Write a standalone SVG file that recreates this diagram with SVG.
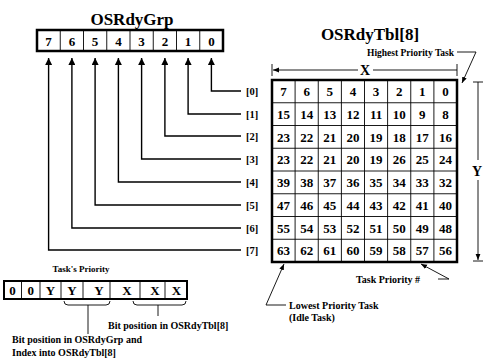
<svg xmlns="http://www.w3.org/2000/svg" width="484" height="363" viewBox="0 0 484 363">
<style>
text{font-family:"Liberation Serif","Times New Roman",serif;font-weight:bold;fill:#000}
.t{font-size:17px;text-anchor:middle}
.c{font-size:13px;text-anchor:middle}
.l{font-size:10.5px}
.s{font-size:9.5px}
.ln{fill:none;stroke:#000;stroke-width:1.4}
.thin{fill:none;stroke:#000;stroke-width:0.9}
.box{fill:#fff;stroke:#000;stroke-width:2.5}
</style>
<defs>
<marker id="ah" viewBox="0 0 10 10" refX="10" refY="5" markerWidth="7" markerHeight="7" markerUnits="userSpaceOnUse" orient="auto"><path d="M0,0L10,5L0,10z" fill="#000"/></marker>
<marker id="ahs" viewBox="0 0 10 10" refX="10" refY="5" markerWidth="6" markerHeight="6" markerUnits="userSpaceOnUse" orient="auto"><path d="M0,1L10,5L0,9z" fill="#000"/></marker>
</defs>

<g id="OSRdyGrp">
<text class="t" x="132" y="25">OSRdyGrp</text>
<rect class="box" x="37" y="30" width="186" height="21"/>
<path class="thin" d="M60.25,30V51M83.5,30V51M106.75,30V51M130,30V51M153.25,30V51M176.5,30V51M199.75,30V51"/>
<g><text class="c" x="48.6" y="45.5">7</text><text class="c" x="71.9" y="45.5">6</text><text class="c" x="95.1" y="45.5">5</text><text class="c" x="118.4" y="45.5">4</text><text class="c" x="141.6" y="45.5">3</text><text class="c" x="164.9" y="45.5">2</text><text class="c" x="188.1" y="45.5">1</text><text class="c" x="211.4" y="45.5">0</text></g>
</g>

<g id="row-labels">
<text class="l" x="246" y="95">[0]</text>
<text class="l" x="246" y="118">[1]</text>
<text class="l" x="246" y="140">[2]</text>
<text class="l" x="246" y="163">[3]</text>
<text class="l" x="246" y="186">[4]</text>
<text class="l" x="246" y="209">[5]</text>
<text class="l" x="246" y="232">[6]</text>
<text class="l" x="246" y="254">[7]</text>
</g>

<g id="connectors">
<path class="ln" d="M241,91H211.4V58" marker-end="url(#ah)"/>
<path class="ln" d="M241,114H188.1V58" marker-end="url(#ah)"/>
<path class="ln" d="M241,136H164.9V58" marker-end="url(#ah)"/>
<path class="ln" d="M241,159H141.6V58" marker-end="url(#ah)"/>
<path class="ln" d="M241,182H118.4V58" marker-end="url(#ah)"/>
<path class="ln" d="M241,205H95.1V58" marker-end="url(#ah)"/>
<path class="ln" d="M241,228H71.9V58" marker-end="url(#ah)"/>
<path class="ln" d="M241,250H48.6V58" marker-end="url(#ah)"/>
<path class="thin" d="M457,52H476L462,83" marker-end="url(#ahs)"/>
<path class="thin" d="M449,279H438M449,279L421,264" marker-end="url(#ahs)"/>
<path class="thin" d="M286,305H266L284,264" marker-end="url(#ahs)"/>
<path class="thin" d="M358,70H273" marker-end="url(#ahs)"/>
<path class="thin" d="M373,70H457M272,64V76M457,64V76"/>
<path class="thin" d="M473,82H483M478,82V160"/>
<path class="thin" d="M478,180V260" marker-end="url(#ahs)"/>
<path class="thin" d="M473,261H483"/>
</g>

<g id="OSRdyTbl">
<text class="t" x="370" y="40">OSRdyTbl[8]</text>
<rect class="box" x="272" y="80" width="185" height="182"/>
<path class="thin" d="M295.1,80V262M318.25,80V262M341.4,80V262M364.5,80V262M387.6,80V262M410.75,80V262M433.9,80V262M272,102.75H457M272,125.5H457M272,148.25H457M272,171H457M272,193.75H457M272,216.5H457M272,239.25H457"/>
<g>
<text class="c" x="283.6" y="96">7</text><text class="c" x="306.7" y="96">6</text><text class="c" x="329.8" y="96">5</text><text class="c" x="352.9" y="96">4</text><text class="c" x="376.1" y="96">3</text><text class="c" x="399.2" y="96">2</text><text class="c" x="422.3" y="96">1</text><text class="c" x="445.4" y="96">0</text>
<text class="c" x="283.6" y="118.7">15</text><text class="c" x="306.7" y="118.7">14</text><text class="c" x="329.8" y="118.7">13</text><text class="c" x="352.9" y="118.7">12</text><text class="c" x="376.1" y="118.7">11</text><text class="c" x="399.2" y="118.7">10</text><text class="c" x="422.3" y="118.7">9</text><text class="c" x="445.4" y="118.7">8</text>
<text class="c" x="283.6" y="141.5">23</text><text class="c" x="306.7" y="141.5">22</text><text class="c" x="329.8" y="141.5">21</text><text class="c" x="352.9" y="141.5">20</text><text class="c" x="376.1" y="141.5">19</text><text class="c" x="399.2" y="141.5">18</text><text class="c" x="422.3" y="141.5">17</text><text class="c" x="445.4" y="141.5">16</text>
<text class="c" x="283.6" y="164.2">23</text><text class="c" x="306.7" y="164.2">22</text><text class="c" x="329.8" y="164.2">21</text><text class="c" x="352.9" y="164.2">20</text><text class="c" x="376.1" y="164.2">19</text><text class="c" x="399.2" y="164.2">26</text><text class="c" x="422.3" y="164.2">25</text><text class="c" x="445.4" y="164.2">24</text>
<text class="c" x="283.6" y="187">39</text><text class="c" x="306.7" y="187">38</text><text class="c" x="329.8" y="187">37</text><text class="c" x="352.9" y="187">36</text><text class="c" x="376.1" y="187">35</text><text class="c" x="399.2" y="187">34</text><text class="c" x="422.3" y="187">33</text><text class="c" x="445.4" y="187">32</text>
<text class="c" x="283.6" y="209.7">47</text><text class="c" x="306.7" y="209.7">46</text><text class="c" x="329.8" y="209.7">45</text><text class="c" x="352.9" y="209.7">44</text><text class="c" x="376.1" y="209.7">43</text><text class="c" x="399.2" y="209.7">42</text><text class="c" x="422.3" y="209.7">41</text><text class="c" x="445.4" y="209.7">40</text>
<text class="c" x="283.6" y="232.5">55</text><text class="c" x="306.7" y="232.5">54</text><text class="c" x="329.8" y="232.5">53</text><text class="c" x="352.9" y="232.5">52</text><text class="c" x="376.1" y="232.5">51</text><text class="c" x="399.2" y="232.5">50</text><text class="c" x="422.3" y="232.5">49</text><text class="c" x="445.4" y="232.5">48</text>
<text class="c" x="283.6" y="255.2">63</text><text class="c" x="306.7" y="255.2">62</text><text class="c" x="329.8" y="255.2">61</text><text class="c" x="352.9" y="255.2">60</text><text class="c" x="376.1" y="255.2">59</text><text class="c" x="399.2" y="255.2">58</text><text class="c" x="422.3" y="255.2">57</text><text class="c" x="445.4" y="255.2">56</text>
</g>
</g>

<g id="annotations">
<text class="s" x="367" y="55.5">Highest Priority Task</text>
<text x="365" y="75" style="font-size:14px;text-anchor:middle">X</text>
<text x="472" y="176" style="font-size:14px">Y</text>
<text x="356" y="283" style="font-size:10px">Task Priority #</text>
<text x="289" y="308.5" style="font-size:10px">Lowest Priority Task</text>
<text x="289" y="321" style="font-size:10px">(Idle Task)</text>
</g>

<g id="TaskPriority">
<text x="81" y="272" style="font-size:9px;text-anchor:middle">Task's Priority</text>
<rect class="box" x="4" y="281" width="183" height="18" style="stroke-width:2"/>
<path class="thin" d="M21.5,281V299M40,281V299M61,281V299M83,281V299M110,281V299M140,281V299M165,281V299"/>
<text class="c" x="12.5" y="294.5">0</text><text class="c" x="30.7" y="294.5">0</text><text class="c" x="50.5" y="294.5">Y</text><text class="c" x="72" y="294.5">Y</text><text class="c" x="99" y="294.5">Y</text><text class="c" x="127" y="294.5">X</text><text class="c" x="155" y="294.5">X</text><text class="c" x="176.5" y="294.5">X</text>
<path class="thin" d="M64,301q0,4 4,4H106q4,0 4,-4M88,305V334"/>
<path class="thin" d="M133,301q0,4 4,4H182q4,0 4,-4M158,305V316"/>
<text x="108" y="328.5" style="font-size:10px">Bit position in OSRdyTbl[8]</text>
<text x="12" y="343" style="font-size:10px">Bit position in OSRdyGrp and</text>
<text x="12" y="356" style="font-size:10px">Index into OSRdyTbl[8]</text>
</g>
</svg>
